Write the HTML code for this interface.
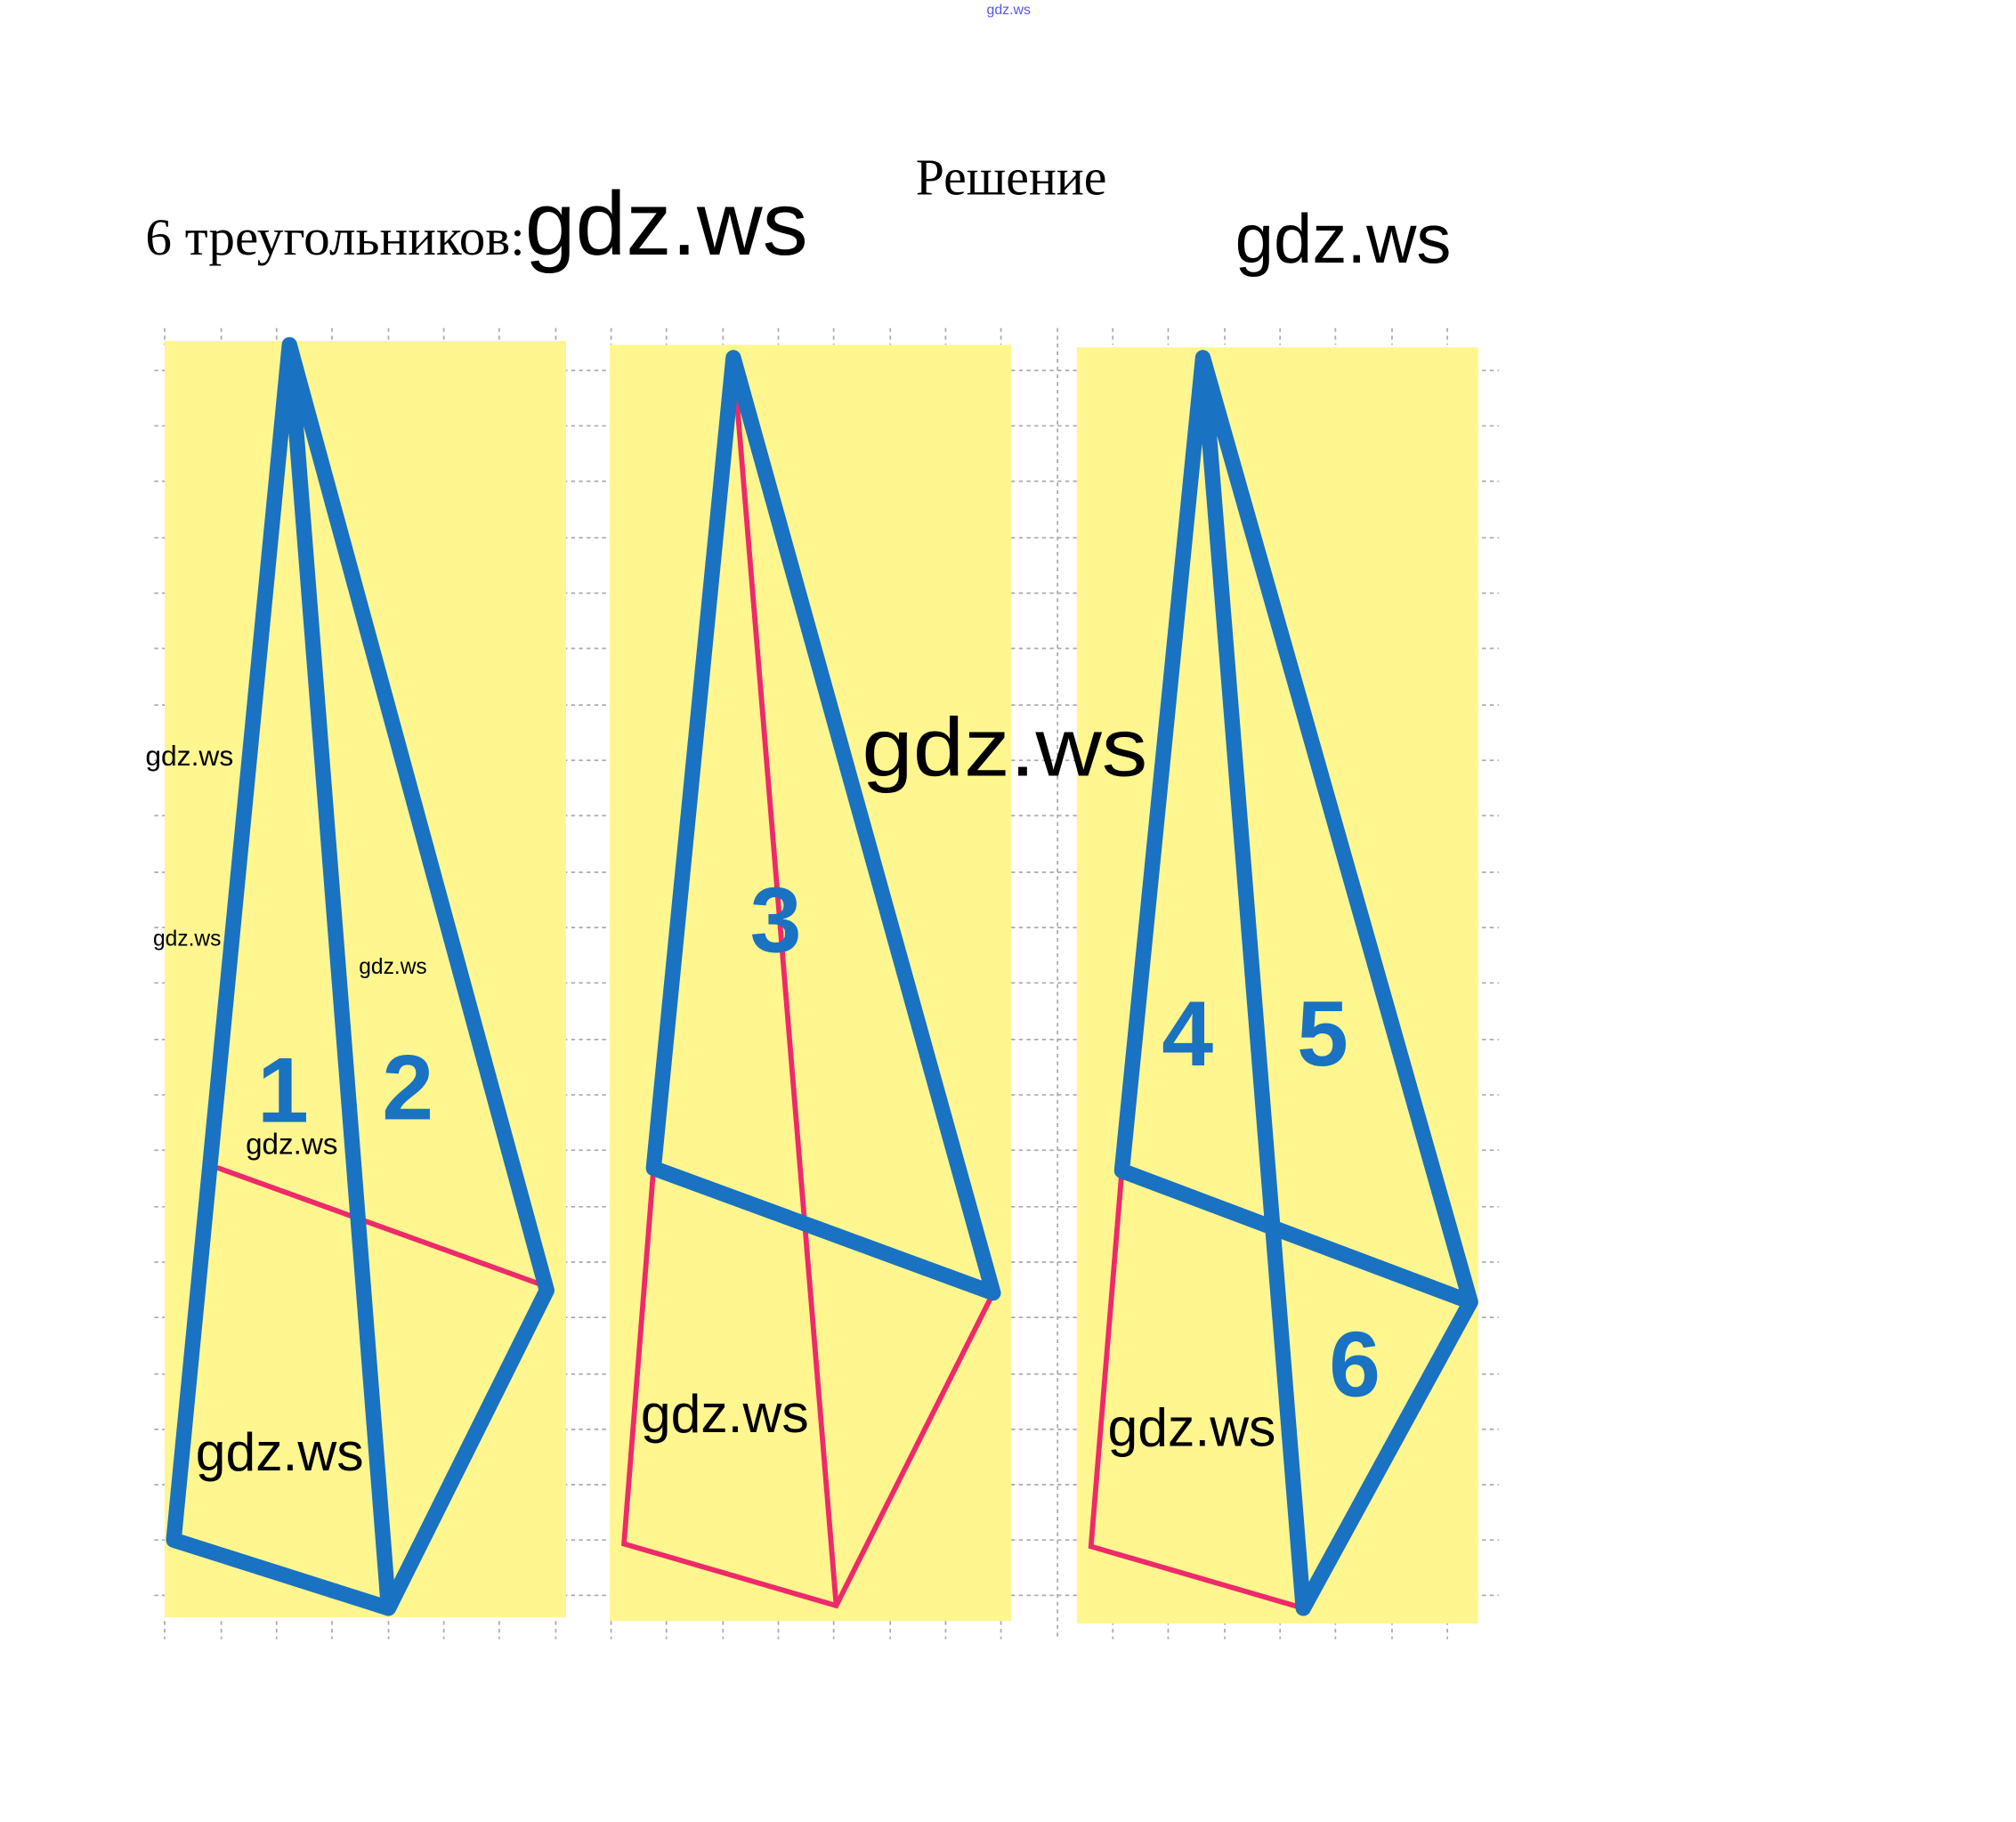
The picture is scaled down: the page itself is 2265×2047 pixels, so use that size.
<!DOCTYPE html>
<html><head><meta charset="utf-8"><style>
html,body{margin:0;padding:0;background:#fff;}
svg{display:block;}
</style></head><body>
<svg width="2265" height="2047" viewBox="0 0 1567 1416" preserveAspectRatio="xMinYMin meet" xmlns="http://www.w3.org/2000/svg">
<rect width="1567" height="1416" fill="#fff"/>
<g stroke="#aaa" stroke-width="1.2" stroke-dasharray="3,3" fill="none">
<path d="M120 288H1165M120 331H1165M120 374H1165M120 418H1165M120 461H1165M120 504H1165M120 548H1165M120 591H1165M120 634H1165M120 678H1165M120 721H1165M120 764H1165M120 808H1165M120 851H1165M120 894H1165M120 938H1165M120 981H1165M120 1024H1165M120 1068H1165M120 1111H1165M120 1154H1165M120 1197H1165M120 1240H1165"/>
<path d="M822 255V1275"/>
<path d="M128 255V268M172 255V268M215 255V268M258 255V268M302 255V268M345 255V268M388 255V268M432 255V268M475 255V268M518 255V268M562 255V268M605 255V268M648 255V268M692 255V268M735 255V268M778 255V268M865 255V268M908 255V268M952 255V268M995 255V268M1038 255V268M1082 255V268M1125 255V268"/>
<path d="M128 1260V1274M172 1260V1274M215 1260V1274M258 1260V1274M302 1260V1274M345 1260V1274M388 1260V1274M432 1260V1274M475 1260V1274M518 1260V1274M562 1260V1274M605 1260V1274M648 1260V1274M692 1260V1274M735 1260V1274M778 1260V1274M865 1260V1274M908 1260V1274M952 1260V1274M995 1260V1274M1038 1260V1274M1082 1260V1274M1125 1260V1274"/>
</g>
<rect x="128" y="265" width="312" height="992" fill="#fff68f"/>
<rect x="474" y="268" width="312" height="992" fill="#fff68f"/>
<rect x="837" y="270" width="312" height="992" fill="#fff68f"/>
<g stroke="#ee2a6a" stroke-width="4" fill="none" stroke-linecap="round">
<path d="M170 908L425 1000"/>
<path d="M508 908L485 1200L650 1248L772 1005M570 278L650 1248"/>
<path d="M872 910L848 1202L1013 1250"/>
</g>
<g stroke="#1a72c2" stroke-width="12" fill="none" stroke-linejoin="round" stroke-linecap="round">
<path d="M225 268L135 1197L302 1250L425 1003L225 268L302 1250"/>
<path d="M570 278L508 908L772 1005Z"/>
<path d="M935 278L872 910L1143 1012L935 278L1013 1250L1143 1012"/>
</g>
<g font-family="Liberation Sans, sans-serif" font-weight="bold" fill="#1a72c2" font-size="72" text-anchor="middle">
<text x="220" y="872">1</text><text x="317" y="870">2</text><text x="603" y="740">3</text>
<text x="923" y="828">4</text><text x="1028" y="828">5</text><text x="1053" y="1085">6</text>
</g>
<text x="784" y="11" font-family="Liberation Sans, sans-serif" font-size="11" fill="#5555ee" text-anchor="middle">gdz.ws</text>
<text x="786" y="151" font-family="Liberation Serif, serif" font-size="40" text-anchor="middle">Решение</text>
<text x="113" y="198" font-family="Liberation Serif, serif" font-size="40" textLength="295" lengthAdjust="spacingAndGlyphs">6 треугольников:</text>
<g font-family="Liberation Sans, sans-serif" fill="#000">
<text x="408" y="198" font-size="70" textLength="220" lengthAdjust="spacingAndGlyphs">gdz.ws</text>
<text x="960" y="204" font-size="54" textLength="168" lengthAdjust="spacingAndGlyphs">gdz.ws</text>
<text x="113" y="595" font-size="22">gdz.ws</text>
<text x="119" y="735" font-size="17">gdz.ws</text>
<text x="279" y="757" font-size="17">gdz.ws</text>
<text x="191" y="897" font-size="23">gdz.ws</text>
<text x="152" y="1143" font-size="42">gdz.ws</text>
<text x="498" y="1113" font-size="42">gdz.ws</text>
<text x="670" y="603" font-size="64" textLength="222" lengthAdjust="spacingAndGlyphs">gdz.ws</text>
<text x="861" y="1124" font-size="42">gdz.ws</text>
</g>
</svg>
</body></html>
